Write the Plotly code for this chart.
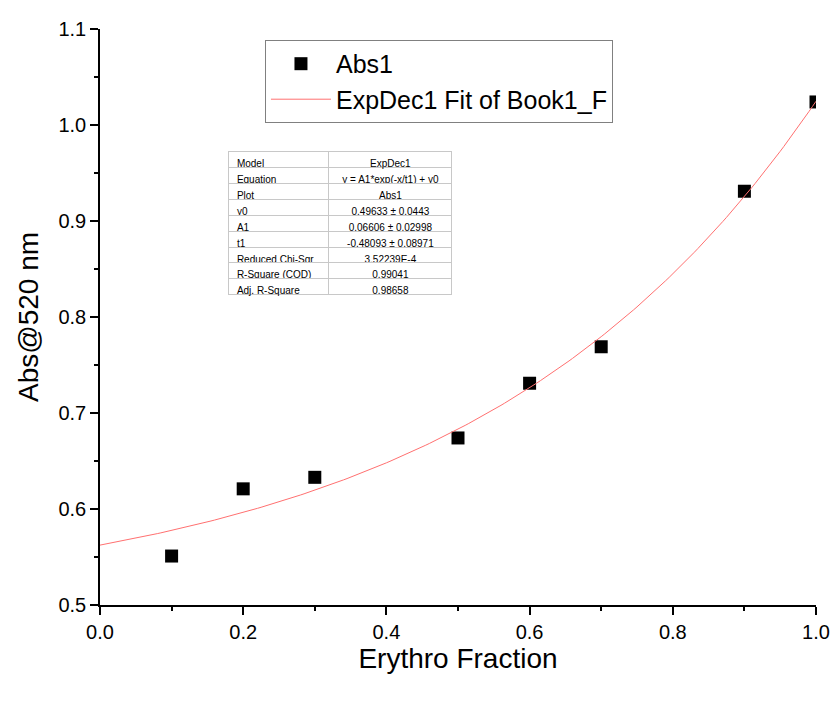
import numpy as np
import plotly.graph_objects as go

# Data
x_frac = [0.1, 0.2, 0.3, 0.5, 0.6, 0.7, 0.9, 1.0]
abs520 = [0.551, 0.621, 0.633, 0.674, 0.731, 0.769, 0.931, 1.024]

# Fit parameters (ExpDec1): y = A1*exp(-x/t1) + y0
y0 = 0.49633
A1 = 0.06606
t1 = -0.48093

table_labels = ["Model", "Equation", "Plot", "y0", "A1", "t1",
                "Reduced Chi-Sqr", "R-Square (COD)", "Adj. R-Square"]
table_values = ["ExpDec1", "y = A1*exp(-x/t1) + y0", "Abs1",
                "0.49633 \u00b1 0.0443", "0.06606 \u00b1 0.02998",
                "-0.48093 \u00b1 0.08971", "3.52239E-4", "0.99041", "0.98658"]

x_fit = np.linspace(0.0, 1.0, 201)
y_fit = A1 * np.exp(-x_fit / t1) + y0

FONT = "Liberation Sans, Arial, sans-serif"

fig = go.Figure()
fig.add_trace(go.Scatter(
    x=x_frac, y=abs520, mode="markers", name="Abs1",
    marker=dict(symbol="square", size=13, color="black"),
))
fig.add_trace(go.Scatter(
    x=x_fit, y=y_fit, mode="lines", name="ExpDec1 Fit of Book1_F",
    line=dict(color="#ff7070", width=1),
))

fig.add_trace(go.Table(
    domain=dict(x=[0.180, 0.4916], y=[0.535, 0.787]),
    columnwidth=[100, 123],
    header=dict(values=[table_labels[0], table_values[0]],
                align=["left", "center"], height=15.9,
                line=dict(color="#c8c8c8", width=1), fill=dict(color="white"),
                font=dict(family=FONT, size=10, color="black")),
    cells=dict(values=[table_labels[1:], table_values[1:]],
               align=["left", "center"], height=15.9,
               line=dict(color="#c8c8c8", width=1), fill=dict(color="white"),
               font=dict(family=FONT, size=10, color="black")),
))

axis_common = dict(
    showline=True, linecolor="black", linewidth=1.5, mirror=False,
    ticks="outside", ticklen=8, tickwidth=1.5, tickcolor="black",
    showgrid=False, zeroline=False, automargin=False,
    ticklabeloverflow="allow",
    tickfont=dict(family=FONT, size=20, color="black"),
)

fig.update_xaxes(
    range=[0.0, 1.0], dtick=0.2, tick0=0, tickformat=".1f",
    title=dict(text="Erythro Fraction", font=dict(family=FONT, size=28, color="black"),
               standoff=6),
    minor=dict(ticks="outside", ticklen=4, tickwidth=1.5, tickcolor="black", dtick=0.1),
    **axis_common,
)
fig.update_yaxes(
    range=[0.5, 1.1], dtick=0.1, tick0=0.5, tickformat=".1f",
    title=dict(text="Abs@520 nm", font=dict(family=FONT, size=28, color="black"),
               standoff=12),
    minor=dict(ticks="outside", ticklen=4, tickwidth=1.5, tickcolor="black", dtick=0.05),
    **axis_common,
)

fig.update_layout(
    width=833, height=702,
    margin=dict(l=100, r=17, t=29, b=97),
    paper_bgcolor="white", plot_bgcolor="white",
    showlegend=True,
    legend=dict(
        x=0.2304, y=0.981, xanchor="left", yanchor="top",
        bgcolor="white", bordercolor="#808080", borderwidth=1,
        font=dict(family=FONT, size=25, color="black"),
        itemwidth=60, tracegroupgap=0,
    ),
)

fig.write_html("out.html")
